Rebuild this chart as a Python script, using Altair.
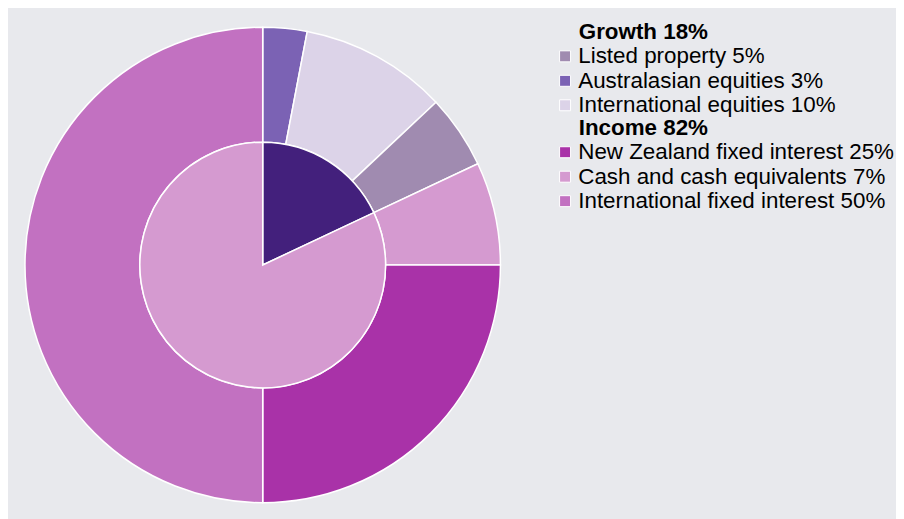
import altair as alt
import pandas as pd

# Outer ring, in clockwise order from 12 o'clock
ring_names = ["Australasian equities", "International equities", "Listed property",
              "Cash and cash equivalents", "New Zealand fixed interest",
              "International fixed interest"]
ring_values = [3, 10, 5, 7, 25, 50]
ring_groups = ["Growth", "Growth", "Growth", "Income", "Income", "Income"]

# Inner pie
group_names = ["Growth", "Income"]
group_values = [18, 82]
group_colors = ["#43207c", "#d59ad0"]

# Legend order and colours
growth_legend = ["Listed property", "Australasian equities", "International equities"]
growth_colors = ["#a08bb0", "#7b62b4", "#dcd3e8"]
income_legend = ["New Zealand fixed interest", "Cash and cash equivalents",
                 "International fixed interest"]
income_colors = ["#a932a8", "#d59ad0", "#c271c1"]

FONT = "Liberation Sans"
BG = "#e8e9ed"
FS = 22.4

ring_df = pd.DataFrame({
    "name": ring_names,
    "value": ring_values,
    "group": ring_groups,
    "pos": list(range(len(ring_names))),
})
ring_df["label"] = ring_df["name"] + " " + ring_df["value"].astype(str) + "%"

grp_df = pd.DataFrame({"group": group_names, "value": group_values,
                       "pos": list(range(len(group_names)))})

def lab(names, df):
    m = dict(zip(df["name"], df["label"]))
    return [m[n] for n in names]

growth_labels = lab(growth_legend, ring_df)
income_labels = lab(income_legend, ring_df)
gval = dict(zip(group_names, group_values))

theta_scale = alt.Scale(domain=[0, 100])

# zero-width space keeps the indent (non-breaking spaces) from being trimmed
INDENT = "\u200b\u00a0\u00a0\u00a0\u00a0"

def legend(title, y):
    return alt.Legend(
        title=INDENT + title,
        orient="none", legendX=546.5, legendY=y,
        symbolType="square", symbolSize=121,
        symbolStrokeColor="white", symbolStrokeWidth=1, symbolOpacity=1,
        labelFont=FONT, titleFont=FONT,
        labelFontSize=FS, titleFontSize=FS, titleFontWeight="bold",
        labelColor="black", titleColor="black",
        rowPadding=1.5, titlePadding=1.5, labelOffset=2,
        labelLimit=500, titleLimit=500, padding=0,
    )

outer_base = (
    alt.Chart(ring_df)
    .transform_window(end="sum(value)", sort=[alt.SortField("pos")], frame=[None, 0])
    .transform_calculate(start="datum.end - datum.value")
)

arc_props = dict(innerRadius=123, outerRadius=238, stroke="white", strokeWidth=1.5)

growth = outer_base.transform_filter(alt.datum.group == "Growth").mark_arc(**arc_props).encode(
    theta=alt.Theta("start:Q", stack=None, scale=theta_scale),
    theta2="end:Q",
    color=alt.Color("label:N", sort=growth_labels,
                    scale=alt.Scale(domain=growth_labels, range=growth_colors),
                    legend=legend(f"Growth {gval['Growth']}%", 13)),
)

income = outer_base.transform_filter(alt.datum.group == "Income").mark_arc(**arc_props).encode(
    theta=alt.Theta("start:Q", stack=None, scale=theta_scale),
    theta2="end:Q",
    color=alt.Color("label:N", sort=income_labels,
                    scale=alt.Scale(domain=income_labels, range=income_colors),
                    legend=legend(f"Income {gval['Income']}%", 109)),
)

inner = (
    alt.Chart(grp_df)
    .transform_window(end="sum(value)", sort=[alt.SortField("pos")], frame=[None, 0])
    .transform_calculate(start="datum.end - datum.value")
    .mark_arc(outerRadius=123, stroke="white", strokeWidth=1.5)
    .encode(
        theta=alt.Theta("start:Q", stack=None, scale=theta_scale),
        theta2="end:Q",
        color=alt.Color("group:N", scale=alt.Scale(domain=group_names, range=group_colors),
                        legend=None),
    )
)

chart = (
    alt.layer(growth, income, inner)
    .resolve_scale(color="independent")
    .properties(width=510, height=514, background=BG,
                padding={"left": 0, "top": 0, "right": 1, "bottom": 0})
    .configure_view(stroke=None)
)

chart.save("out.html", embed_options={"renderer": "svg", "actions": False})
